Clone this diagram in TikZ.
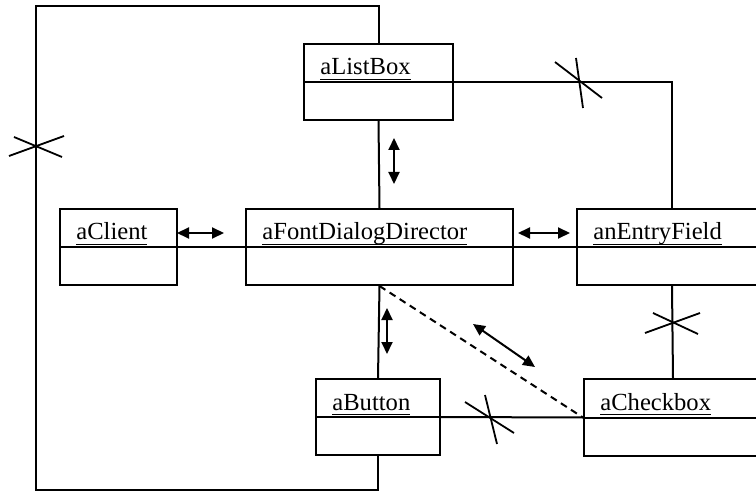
\documentclass[tikz,border=0pt]{standalone}
\usepackage{fontspec}
\setmainfont{Liberation Serif}
\usetikzlibrary{arrows.meta,calc}

% object name, underlined at a fixed depth
\newcommand\objname[1]{\setbox0=\hbox{#1}\rlap{\rule[-2.6pt]{\wd0}{0.7pt}}\box0}

% \objbox{name}{x}{y}{width}{height}{label}
\newcommand\objbox[6]{%
  \node[objframe, minimum width=#4*0.5pt, minimum height=#5*0.5pt, anchor=north west] (#1) at (#2,#3) {};
  \draw[conn] (#1.west) -- (#1.east);
  \node[objlabel] at ($(#1.north west)+(17,32)$) {\objname{#6}};
}

\begin{document}
\begin{tikzpicture}[x=0.5pt, y=-0.5pt,
  objframe/.style={draw, line width=1pt, inner sep=0pt},
  objlabel/.style={anchor=base west, inner sep=0pt, font=\fontsize{12.3}{14}\selectfont},
  conn/.style={line width=1pt},
  msgarrow/.style={line width=1pt, {Triangle[length=6pt,width=5.5pt]}-{Triangle[length=6pt,width=5.5pt]}},
  cutmark/.style={line width=0.9pt},
  indirect/.style={line width=1pt, dash pattern=on 3.5pt off 2.5pt}
]
\useasboundingbox (0,0) rectangle (756,492);
\clip (0,0) rectangle (756,492);

% objects
\objbox{listbox}{303}{43}{149}{76}{aListBox}
\objbox{client}{59}{208}{117}{76}{aClient}
\objbox{director}{245}{208}{267}{76}{aFontDialogDirector}
\objbox{entry}{576}{208}{190}{76}{anEntryField}
\objbox{button}{315}{378}{124}{76}{aButton}
\objbox{checkbox}{583}{378}{178}{77}{aCheckbox}

% links between objects
\coordinate (loopBL) at (36,490);
\coordinate (loopTL) at (36,6);
\draw[conn] (button.south) |- (loopBL) -- (loopTL) -| (listbox.north);
\draw[conn] (listbox.south) -- (director.north);
\draw[conn] (director.south) -- (button.north);
\draw[conn] (client.east) -- (director.west);
\draw[conn] (director.east) -- (entry.west);
\draw[conn] (listbox.east) -| (entry.north);
\draw[conn] (entry.south) -- (checkbox.north);
\draw[conn] (button.east) -- (checkbox.west);
\draw[indirect] (director.south) -- (checkbox.west);

% cut marks on removed links
\coordinate (c1a) at (9,156);   \coordinate (c1b) at (64,136);
\coordinate (c1c) at (14,137);  \coordinate (c1d) at (62,157);
\draw[cutmark] (c1a) -- (c1b);  \draw[cutmark] (c1c) -- (c1d);

\coordinate (c2a) at (555,62);  \coordinate (c2b) at (602,98);
\coordinate (c2c) at (576,58);  \coordinate (c2d) at (583,108);
\draw[cutmark] (c2a) -- (c2b);  \draw[cutmark] (c2c) -- (c2d);

\coordinate (c3a) at (645,333); \coordinate (c3b) at (700,313);
\coordinate (c3c) at (653,313); \coordinate (c3d) at (698,334);
\draw[cutmark] (c3a) -- (c3b);  \draw[cutmark] (c3c) -- (c3d);

\coordinate (c4a) at (465,402); \coordinate (c4b) at (514,433);
\coordinate (c4c) at (485,395); \coordinate (c4d) at (497,444);
\draw[cutmark] (c4a) -- (c4b);  \draw[cutmark] (c4c) -- (c4d);

% message arrows
\coordinate (m1a) at (394,138); \coordinate (m1b) at (394,184);
\coordinate (m2a) at (177,233); \coordinate (m2b) at (224,233);
\coordinate (m3a) at (518,233); \coordinate (m3b) at (570,233);
\coordinate (m4a) at (387,308); \coordinate (m4b) at (387,354);
\coordinate (m5a) at (473,324); \coordinate (m5b) at (535,367);
\draw[msgarrow] (m1a) -- (m1b);
\draw[msgarrow] (m2a) -- (m2b);
\draw[msgarrow] (m3a) -- (m3b);
\draw[msgarrow] (m4a) -- (m4b);
\draw[msgarrow] (m5a) -- (m5b);
\end{tikzpicture}
\end{document}
